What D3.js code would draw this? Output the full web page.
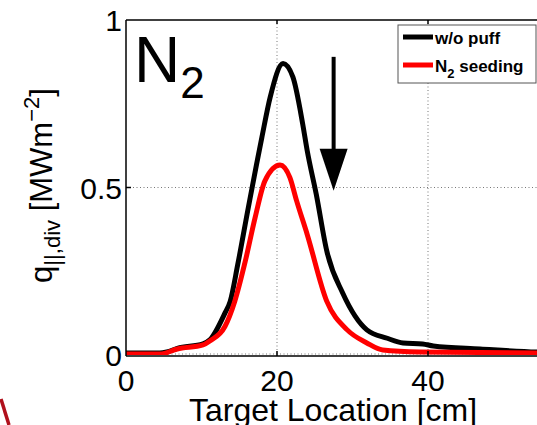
<!DOCTYPE html>
<html>
<head>
<meta charset="utf-8">
<script src="https://cdn.jsdelivr.net/npm/d3@7"></script>
<style>
  html, body { margin: 0; padding: 0; background: #fff; }
  svg { display: block; font-family: "Liberation Sans", Arial, Helvetica, sans-serif; }
</style>
</head>
<body>
<div id="chart"></div>
<script>
// target location [cm] and parallel heat flux [MW m^-2]
const woPuffLoc = [0, 4.5, 5.4, 6.8, 10.2, 11.1, 13.1, 13.8, 14.8, 16.2, 17.3, 18.0, 19.1, 20.8, 22.1, 23.4, 24.0, 25.2, 26.6, 28.7, 31.9, 34.6, 36.7, 39.3, 40.7, 46.9, 54.4, 57];
const woPuffQ   = [0.006, 0.006, 0.009, 0.02, 0.033, 0.045, 0.125, 0.16, 0.27, 0.44, 0.57, 0.65, 0.77, 0.87, 0.83, 0.69, 0.61, 0.48, 0.31, 0.185, 0.075, 0.05, 0.036, 0.033, 0.027, 0.018, 0.009, 0.008];

const n2Loc = [0, 4.5, 6.8, 10.2, 11.1, 13.1, 14.4, 15.8, 17.1, 18.4, 20.4, 21.7, 22.6, 24.0, 26.6, 29.3, 31.9, 34.0, 38.9, 54.4, 57];
const n2Q   = [0.003, 0.003, 0.018, 0.03, 0.042, 0.085, 0.16, 0.28, 0.41, 0.52, 0.567, 0.53, 0.46, 0.36, 0.16, 0.075, 0.036, 0.015, 0.009, 0.006, 0.006];

const xTicks = [0, 20, 40];
const yTicks = [0, 0.5, 1];
const yTickLabels = ["0", "0.5", "1"];
const legendLabels = ["w/o puff", "N2 seeding"];
const seriesColors = ["#000000", "#ff0000"];

// arrow annotation (location, from, to)
const arrowLoc = 27.5;
const arrowFrom = 0.89;
const arrowTo = 0.49;

const width = 537, height = 425;
const svg = d3.select("#chart").append("svg")
  .attr("width", width)
  .attr("height", height);

const x = d3.scaleLinear().domain([0, 60]).range([126, 579]);
const y = d3.scaleLinear().domain([0, 1]).range([355, 20]);

// clip for plot area
svg.append("defs").append("clipPath").attr("id", "plot-clip")
  .append("rect")
  .attr("x", x(0)).attr("y", y(1))
  .attr("width", width - x(0)).attr("height", y(0) - y(1));

// dotted grid
const grid = svg.append("g").attr("stroke", "#777").attr("stroke-width", 1)
  .attr("stroke-dasharray", "1,2.5");
xTicks.filter(d => d > 0).forEach(d => {
  grid.append("line")
    .attr("x1", x(d)).attr("x2", x(d))
    .attr("y1", y(1)).attr("y2", y(0));
});
yTicks.filter(d => d > 0 && d < 1).forEach(d => {
  grid.append("line")
    .attr("x1", x(0)).attr("x2", width)
    .attr("y1", y(d)).attr("y2", y(d));
});
grid.append("line")
  .attr("x1", x(0)).attr("x2", width)
  .attr("y1", y(0) - 1).attr("y2", y(0) - 1);

// curves
const line = d3.line()
  .x(d => x(d[0]))
  .y(d => y(d[1]))
  .curve(d3.curveMonotoneX);

const series = [
  d3.zip(woPuffLoc, woPuffQ),
  d3.zip(n2Loc, n2Q)
];

const curves = svg.append("g").attr("clip-path", "url(#plot-clip)");
series.forEach((s, i) => {
  curves.append("path")
    .datum(s)
    .attr("fill", "none")
    .attr("stroke", seriesColors[i])
    .attr("stroke-width", 5)
    .attr("stroke-linejoin", "round")
    .attr("d", line);
});

// axes box (left, bottom, top)
const axisG = svg.append("g").attr("stroke", "#000").attr("stroke-width", 1.5);
axisG.append("line").attr("x1", x(0)).attr("x2", x(0)).attr("y1", y(1)).attr("y2", y(0) + 1);
axisG.append("line").attr("x1", x(0)).attr("x2", width).attr("y1", y(0) + 1).attr("y2", y(0) + 1);
axisG.append("line").attr("x1", x(0)).attr("x2", width).attr("y1", y(1)).attr("y2", y(1));

// inward ticks
xTicks.filter(d => d > 0).forEach(d => {
  axisG.append("line").attr("x1", x(d)).attr("x2", x(d)).attr("y1", y(0) + 1).attr("y2", y(0) - 4);
  axisG.append("line").attr("x1", x(d)).attr("x2", x(d)).attr("y1", y(1)).attr("y2", y(1) + 4);
});
yTicks.filter(d => d > 0 && d < 1).forEach(d => {
  axisG.append("line").attr("x1", x(0)).attr("x2", x(0) + 5).attr("y1", y(d)).attr("y2", y(d));
});

// tick labels
svg.append("g").selectAll("text")
  .data(xTicks)
  .join("text")
  .attr("x", d => x(d))
  .attr("y", 391)
  .attr("text-anchor", "middle")
  .style("font-size", "30px")
  .text(d => d);

svg.append("g").selectAll("text")
  .data(yTicks)
  .join("text")
  .attr("x", x(0) - 4)
  .attr("y", d => y(d) + 11)
  .attr("text-anchor", "end")
  .style("font-size", "30px")
  .text((d, i) => yTickLabels[i]);

// axis titles
svg.append("text")
  .attr("x", 333)
  .attr("y", 421)
  .attr("text-anchor", "middle")
  .style("font-size", "32px")
  .text("Target Location [cm]");

const yTitle = svg.append("text")
  .attr("transform", `translate(52,${(y(0) + y(1)) / 2 - 2}) rotate(-90)`)
  .attr("text-anchor", "middle")
  .style("font-size", "31px");
yTitle.append("tspan").text("q");
yTitle.append("tspan").attr("dy", 8).style("font-size", "22px").text("||,div");
yTitle.append("tspan").attr("dy", -8).text(" [MWm");
yTitle.append("tspan").attr("dy", -13).style("font-size", "22px").text("−2");
yTitle.append("tspan").attr("dy", 13).text("]");

// N2 label
const n2Label = svg.append("text")
  .attr("x", 134)
  .attr("y", 82)
  .style("font-size", "64px");
n2Label.append("tspan").text("N");
n2Label.append("tspan").attr("dy", 16).style("font-size", "44px").text("2");

// arrow
svg.append("line")
  .attr("x1", x(arrowLoc)).attr("x2", x(arrowLoc))
  .attr("y1", y(arrowFrom)).attr("y2", y(arrowTo) - 40)
  .attr("stroke", "#000").attr("stroke-width", 4);
svg.append("path")
  .attr("d", `M${x(arrowLoc) - 14},${y(arrowTo) - 42} L${x(arrowLoc) + 14},${y(arrowTo) - 42} L${x(arrowLoc)},${y(arrowTo)} Z`)
  .attr("fill", "#000");

// legend
const legend = svg.append("g").attr("transform", "translate(398,25)");
legend.append("rect")
  .attr("width", 138).attr("height", 58)
  .attr("fill", "#fff").attr("stroke", "#555").attr("stroke-width", 1);
legendLabels.forEach((lab, i) => {
  const ly = 12 + i * 28;
  legend.append("line")
    .attr("x1", 5).attr("x2", 35)
    .attr("y1", ly).attr("y2", ly)
    .attr("stroke", seriesColors[i]).attr("stroke-width", 5);
  const t = legend.append("text")
    .attr("x", 37).attr("y", ly + 7)
    .style("font-size", "17px")
    .style("font-weight", "bold");
  if (lab.startsWith("N2")) {
    t.append("tspan").text("N");
    t.append("tspan").attr("dy", 6).style("font-size", "13px").text("2");
    t.append("tspan").attr("dy", -6).text(lab.slice(2));
  } else {
    t.text(lab);
  }
});

// red slide fragment in the lower-left corner
svg.append("path")
  .attr("d", "M1,399 L9,425")
  .attr("stroke", "#b0101c").attr("stroke-width", 3.5).attr("fill", "none");
</script>
</body>
</html>
